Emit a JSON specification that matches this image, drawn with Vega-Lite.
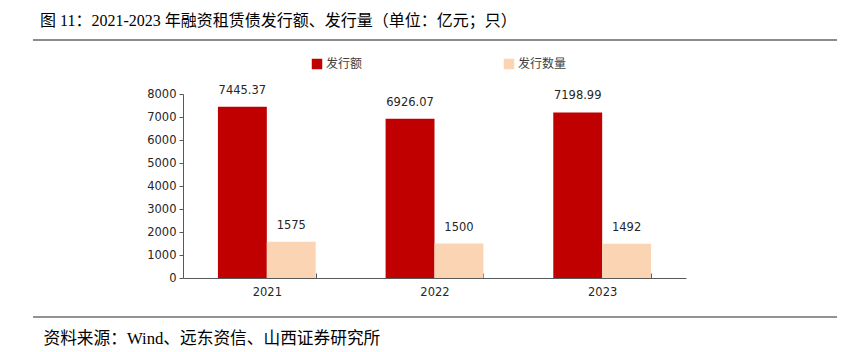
{
  "$schema": "https://vega.github.io/schema/vega-lite/v6.json",
  "width": 503,
  "height": 184,
  "autosize": "none",
  "padding": {"left": 183, "top": 94, "right": 160, "bottom": 74},
  "background": "white",
  "config": {"view": {"stroke": null}},
  "title": {
    "text": "图 11：2021-2023 年融资租赁债发行额、发行量（单位：亿元；只）",
    "anchor": "start",
    "frame": "group",
    "dx": -143,
    "offset": 10,
    "font": "Liberation Serif, Noto Sans CJK SC",
    "fontSize": 16,
    "fontWeight": "normal",
    "color": "#000000"
  },
  "layer": [
    {
      "data": {
        "values": [
          {"year": "2021", "series": "发行额", "value": 7445.37},
          {"year": "2021", "series": "发行数量", "value": 1575},
          {"year": "2022", "series": "发行额", "value": 6926.07},
          {"year": "2022", "series": "发行数量", "value": 1500},
          {"year": "2023", "series": "发行额", "value": 7198.99},
          {"year": "2023", "series": "发行数量", "value": 1492}
        ]
      },
      "encoding": {
        "x": {
          "field": "year",
          "type": "nominal",
          "scale": {"paddingInner": 0.4167, "paddingOuter": 0.2083},
          "axis": {
            "title": "资料来源：Wind、远东资信、山西证券研究所",
            "labelAngle": 0,
            "tickBand": "extent",
            "tickSize": -5,
            "domainColor": "#595959",
            "tickColor": "#595959",
            "labelFont": "DejaVu Sans",
            "labelFontSize": 11.5,
            "labelColor": "#262626",
            "labelPadding": 13,
            "titleFont": "Liberation Serif, Noto Sans CJK SC",
            "titleFontSize": 16.7,
            "titleFontWeight": "normal",
            "titleColor": "#000000",
            "titleX": -140,
            "titleY": 60,
            "titleAlign": "left",
            "titleBaseline": "middle"
          }
        },
        "xOffset": {"field": "series", "type": "nominal", "sort": ["发行额", "发行数量"]},
        "y": {
          "field": "value",
          "type": "quantitative",
          "scale": {"domain": [0, 8000]},
          "axis": {
            "title": null,
            "values": [0, 1000, 2000, 3000, 4000, 5000, 6000, 7000, 8000],
            "format": "d",
            "grid": false,
            "tickSize": 4,
            "labelPadding": 3,
            "domainColor": "#595959",
            "tickColor": "#595959",
            "labelFont": "DejaVu Sans",
            "labelFontSize": 11.5,
            "labelColor": "#262626"
          }
        },
        "color": {
          "field": "series",
          "type": "nominal",
          "scale": {"domain": ["发行额", "发行数量"], "range": ["#C00000", "#FBD4B4"]},
          "legend": {
            "orient": "none",
            "legendX": 128,
            "legendY": -36,
            "direction": "horizontal",
            "title": null,
            "symbolType": "square",
            "symbolSize": 110,
            "symbolStrokeWidth": 0,
            "labelFont": "Noto Sans CJK SC",
            "labelFontSize": 12,
            "labelColor": "#404040",
            "columnPadding": 140,
            "labelOffset": 3,
            "padding": 0
          }
        }
      },
      "layer": [
        {"mark": {"type": "bar"}},
        {
          "mark": {"type": "text", "baseline": "middle", "dy": -16, "font": "DejaVu Sans", "fontSize": 11.5},
          "encoding": {
            "text": {"field": "value", "type": "nominal"},
            "color": {"value": "#262626"}
          }
        }
      ]
    },
    {
      "data": {"values": [{}]},
      "mark": {"type": "rule", "color": "#8c8c8c", "strokeWidth": 2},
      "encoding": {
        "x": {"datum": -0.2982, "type": "quantitative", "scale": {"domain": [0, 1]}, "axis": null},
        "x2": {"datum": 1.3002},
        "y": {"datum": 10348, "type": "quantitative", "scale": {"domain": [0, 8000]}, "axis": null}
      }
    },
    {
      "data": {"values": [{}]},
      "mark": {"type": "rule", "color": "#262626", "strokeWidth": 1},
      "encoding": {
        "x": {"datum": -0.2982, "type": "quantitative", "scale": {"domain": [0, 1]}, "axis": null},
        "x2": {"datum": 1.3002},
        "y": {"datum": -1696, "type": "quantitative", "scale": {"domain": [0, 8000]}, "axis": null}
      }
    }
  ],
  "resolve": {"scale": {"x": "independent", "y": "independent"}}
}
